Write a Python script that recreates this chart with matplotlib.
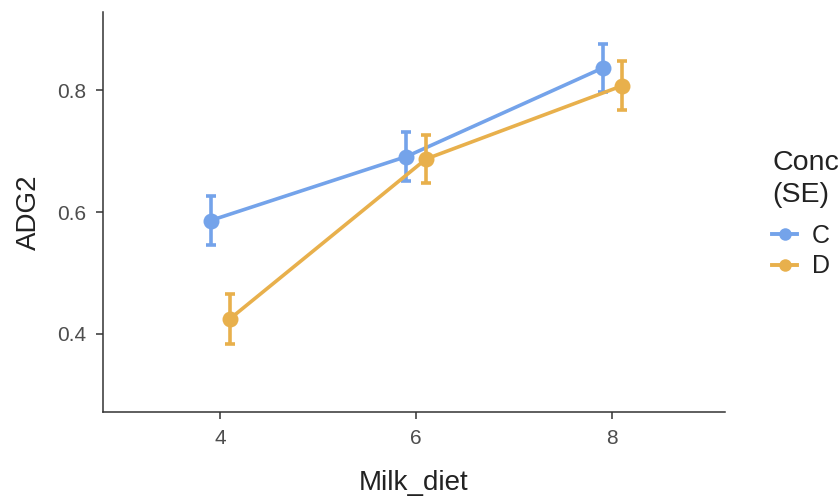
import matplotlib
matplotlib.use("Agg")
import matplotlib.pyplot as plt
from matplotlib.lines import Line2D

plt.rcParams['font.family'] = ['Liberation Sans', 'DejaVu Sans']

milk_diet = [4, 6, 8]
groups = ["C", "D"]
adg2_C = [0.586, 0.691, 0.836]
se_C = [0.040, 0.040, 0.040]
adg2_D = [0.425, 0.687, 0.807]
se_D = [0.041, 0.040, 0.040]
dodge = {"C": -0.1, "D": 0.1}
colors = {"C": "#74a3ea", "D": "#e8b04c"}

W, H = 839, 497
fig = plt.figure(figsize=(W / 100, H / 100), dpi=100)
ax = fig.add_axes([102.7 / W, 1 - 412 / H, (725 - 102.7) / W, (412 - 12) / H])

for g, vals, ses in [("C", adg2_C, se_C), ("D", adg2_D, se_D)]:
    xs = [x + dodge[g] for x in milk_diet]
    ax.errorbar(xs, vals, yerr=ses, color=colors[g], lw=2.6, fmt="none",
                capsize=3.6, capthick=2.6, elinewidth=2.6)
    ax.plot(xs, vals, color=colors[g], lw=2.6, marker="o",
            markersize=11.5, markeredgewidth=0)

ax.set_xlim(2.8, 9.15)
ax.set_ylim(0.272, 0.928)
ax.set_xticks(milk_diet)
ax.set_yticks([0.4, 0.6, 0.8])
ax.set_yticklabels(["0.4", "0.6", "0.8"])
for s in ["top", "right"]:
    ax.spines[s].set_visible(False)
for s in ["left", "bottom"]:
    ax.spines[s].set_color("#333333")
    ax.spines[s].set_linewidth(1.1)
ax.tick_params(axis="both", colors="#333333", labelcolor="#4d4d4d",
               labelsize=15, length=5, width=1.1, pad=7)
ax.set_xlabel("Milk_diet", fontsize=20, color="#222222", labelpad=16)
ax.set_ylabel("ADG2", fontsize=20, color="#222222", labelpad=11)

fig.text(772 / W, 1 - 150 / H, "Conc\n(SE)", fontsize=20.5, color="#222222",
         ha="left", va="top", linespacing=1.3)

handles = [Line2D([0], [0], color=colors[g], lw=2.8, marker="o",
                  markersize=9, markeredgewidth=0) for g in groups]
leg = fig.legend(handles, groups, loc="upper left",
                 bbox_to_anchor=(762 / W, 1 - 214 / H), borderaxespad=0,
                 frameon=False, fontsize=18, handlelength=1.0,
                 handletextpad=0.6, labelspacing=0.26)
for t in leg.get_texts():
    t.set_color("#222222")

fig.savefig("out.png", dpi=100)
